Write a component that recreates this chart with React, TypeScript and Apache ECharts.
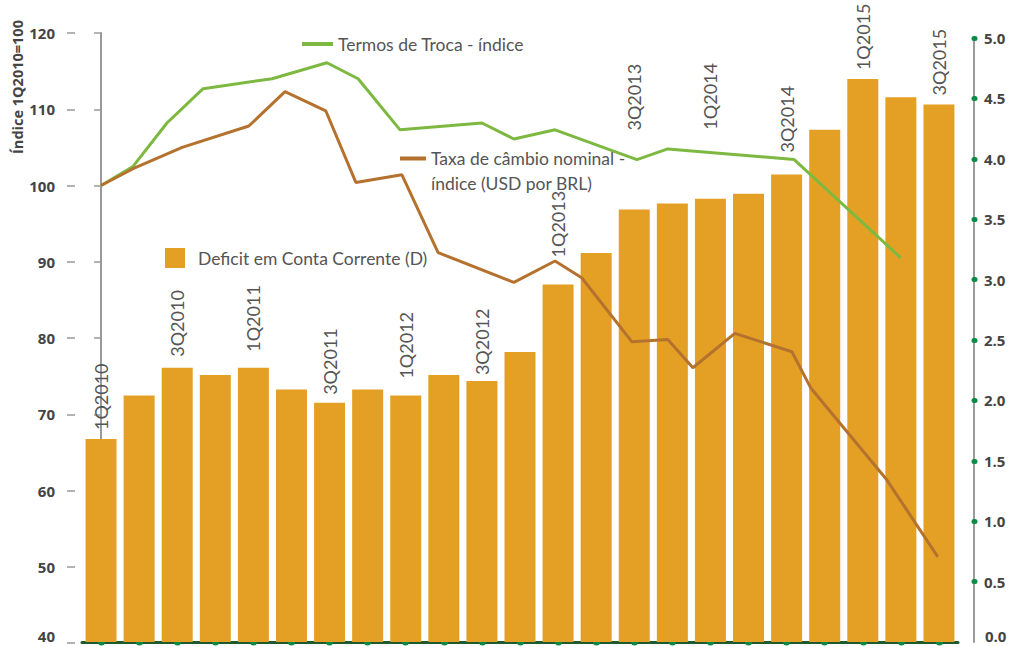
import React, { useEffect, useRef } from "react";
import * as echarts from "echarts";

const quarters = [
  "1Q2010", "2Q2010", "3Q2010", "4Q2010",
  "1Q2011", "2Q2011", "3Q2011", "4Q2011",
  "1Q2012", "2Q2012", "3Q2012", "4Q2012",
  "1Q2013", "2Q2013", "3Q2013", "4Q2013",
  "1Q2014", "2Q2014", "3Q2014", "4Q2014",
  "1Q2015", "2Q2015", "3Q2015",
];
const labeledQuarters = [
  "1Q2010", "3Q2010", "1Q2011", "3Q2011", "1Q2012", "3Q2012",
  "1Q2013", "3Q2013", "1Q2014", "3Q2014", "1Q2015", "3Q2015",
];
const deficit = [
  1.68, 2.04, 2.27, 2.21, 2.27, 2.09, 1.98, 2.09, 2.04, 2.21, 2.16, 2.40,
  2.96, 3.22, 3.58, 3.63, 3.67, 3.71, 3.87, 4.24, 4.66, 4.51, 4.45,
];
// positions along the quarter axis (0 = 1Q2010) and index values
const tradeX = [0, 0.84, 1.73, 2.68, 4.49, 5.93, 6.75, 7.85, 10.0, 10.84, 11.92, 14.07, 14.88, 18.2, 21.0];
const tradeV = [100, 102.5, 108.2, 112.7, 114.0, 116.1, 114.0, 107.3, 108.2, 106.1, 107.3, 103.4, 104.8, 103.4, 90.5];
const fxX = [0, 0.84, 2.13, 3.88, 4.83, 5.9, 6.69, 7.9, 8.85, 10.84, 11.92, 12.62, 13.94, 14.88, 15.54, 16.64, 18.14, 18.64, 20.63, 21.97];
const fxV = [100, 102.2, 105.0, 107.8, 112.3, 109.8, 100.4, 101.4, 91.2, 87.3, 90.1, 87.9, 79.5, 79.8, 76.1, 80.6, 78.2, 73.4, 61.4, 51.3];

const leftTicks = { min: 40, max: 120, interval: 10 };
const rightTicks = { min: 0, max: 5, interval: 0.5 };

const NAME_TRADE = "Termos de Troca - índice";
const NAME_FX = "Taxa de câmbio nominal - índice (USD por BRL)";
const NAME_DEF = "Deficit em Conta Corrente (D)";

const FONT = "Lato";
const BOLD_FONT = "Open Sans";
const TEXT = "#555555";
const AXIS_TEXT = "#444444";
const AXIS_GRAY = "#9a9a9a";
const DOT_GREEN = "#0a8a44";

// label gap above each labelled bar (layout only)
const labelGap: Record<string, number> = {
  "1Q2010": 9, "3Q2010": 11, "1Q2011": 16, "3Q2011": 8, "1Q2012": 17, "3Q2012": 6,
  "1Q2013": 27, "3Q2013": 79, "1Q2014": 69, "3Q2014": 22, "1Q2015": 9, "3Q2015": 9,
};

export default function App() {
  const ref = useRef<HTMLDivElement>(null);
  useEffect(() => {
    document.body.style.margin = "0";
    const chart = echarts.init(ref.current!, null, { renderer: "svg" });
    const legendText = { fontFamily: FONT, fontSize: 17.5, color: TEXT, lineHeight: 22 };
    const axisLabelStyle = { fontFamily: BOLD_FONT, fontWeight: "bold", fontSize: 15, color: AXIS_TEXT };
    chart.setOption({
      animation: false,
      grid: [
        { left: 82, right: 53, top: 33, bottom: 3 },
        { left: 82, right: 53, top: 38, bottom: 4 },
      ],
      legend: [
        {
          data: [NAME_TRADE], left: 302, top: 33, padding: 0, icon: "rect",
          itemWidth: 31, itemHeight: 4, selectedMode: false, textStyle: legendText,
        },
        {
          data: [NAME_FX], left: 400, top: 121, padding: 0, icon: "rect",
          itemWidth: 26, itemHeight: 4, selectedMode: false,
          formatter: () => " \nTaxa de câmbio nominal -\níndice (USD por BRL)",
          textStyle: { ...legendText, lineHeight: 25 },
        },
        {
          data: [NAME_DEF], left: 165, top: 247, padding: 0, icon: "rect",
          itemWidth: 20, itemHeight: 20, selectedMode: false,
          textStyle: { ...legendText, padding: [0, 0, 0, 8] },
        },
      ],
      xAxis: [
        {
          type: "value", gridIndex: 0, min: -0.5, max: 22.5, show: false,
        },
        {
          type: "category", gridIndex: 1, data: quarters, boundaryGap: true, offset: 1,
          axisLine: { lineStyle: { color: "#1e5a2d", width: 3 } },
          axisTick: {
            show: true, alignWithLabel: true, interval: 0, inside: true, length: 1,
            lineStyle: { color: DOT_GREEN, width: 7, cap: "round" },
          },
          axisLabel: { show: false },
        },
      ],
      yAxis: [
        {
          type: "value", gridIndex: 0, position: "left", offset: 15,
          ...leftTicks,
          splitLine: { show: false },
          axisLine: { show: true, lineStyle: { color: AXIS_GRAY, width: 2 } },
          axisTick: { show: true, length: 7, lineStyle: { color: AXIS_GRAY, width: 1.5 } },
          axisLabel: { margin: 12, showMinLabel: false, ...axisLabelStyle },
        },
        {
          type: "value", gridIndex: 0, position: "left", offset: 15,
          ...leftTicks,
          splitLine: { show: false },
          axisLine: { show: false },
          axisTick: { show: true, inside: true, length: 8, lineStyle: { color: AXIS_GRAY, width: 1.5 } },
          axisLabel: { show: false },
        },
        {
          type: "value", gridIndex: 1, position: "right", offset: 16,
          ...rightTicks,
          splitLine: { show: false },
          axisLine: { show: true, lineStyle: { color: AXIS_GRAY, width: 2 } },
          axisTick: { show: true, length: 1, lineStyle: { color: DOT_GREEN, width: 5, cap: "round" } },
          axisLabel: {
            margin: 10, showMinLabel: false, ...axisLabelStyle,
            formatter: (v: number) => v.toFixed(1),
          },
        },
      ],
      graphic: [
        {
          type: "text", x: 17, y: 87, rotation: Math.PI / 2,
          style: {
            text: "Índice 1Q2010=100", fontFamily: BOLD_FONT, fontWeight: "bold",
            fontSize: 14.5, fill: AXIS_TEXT, align: "center", verticalAlign: "middle",
          },
        },
        {
          type: "text", x: 55, y: 636,
          style: {
            text: String(leftTicks.min), ...axisLabelStyle, fill: AXIS_TEXT,
            align: "right", verticalAlign: "middle",
          },
        },
        {
          type: "text", x: 985, y: 636,
          style: {
            text: rightTicks.min.toFixed(1), ...axisLabelStyle, fill: AXIS_TEXT,
            align: "left", verticalAlign: "middle",
          },
        },
      ],
      series: [
        {
          name: NAME_DEF, type: "bar", xAxisIndex: 1, yAxisIndex: 2,
          data: deficit.map((v, i) => ({
            value: v,
            label: { distance: labelGap[quarters[i]] ?? 10 },
          })),
          barWidth: 31, itemStyle: { color: "#e3a024" },
          label: {
            show: true, position: "top", rotate: 90, distance: 10,
            align: "left", verticalAlign: "middle",
            fontFamily: FONT, fontSize: 18, color: TEXT,
            formatter: (p: any) => (labeledQuarters.includes(p.name) ? p.name : ""),
          },
        },
        {
          name: NAME_TRADE, type: "line", xAxisIndex: 0, yAxisIndex: 0,
          data: tradeX.map((x, i) => [x, tradeV[i]]),
          showSymbol: false, symbol: "none",
          lineStyle: { color: "#7db940", width: 3 }, itemStyle: { color: "#7db940" },
        },
        {
          name: NAME_FX, type: "line", xAxisIndex: 0, yAxisIndex: 0,
          data: fxX.map((x, i) => [x, fxV[i]]),
          showSymbol: false, symbol: "none",
          lineStyle: { color: "#b5722f", width: 3 }, itemStyle: { color: "#b5722f" },
        },
      ],
    });
    return () => chart.dispose();
  }, []);
  return <div ref={ref} style={{ width: 1011, height: 646 }} />;
}
